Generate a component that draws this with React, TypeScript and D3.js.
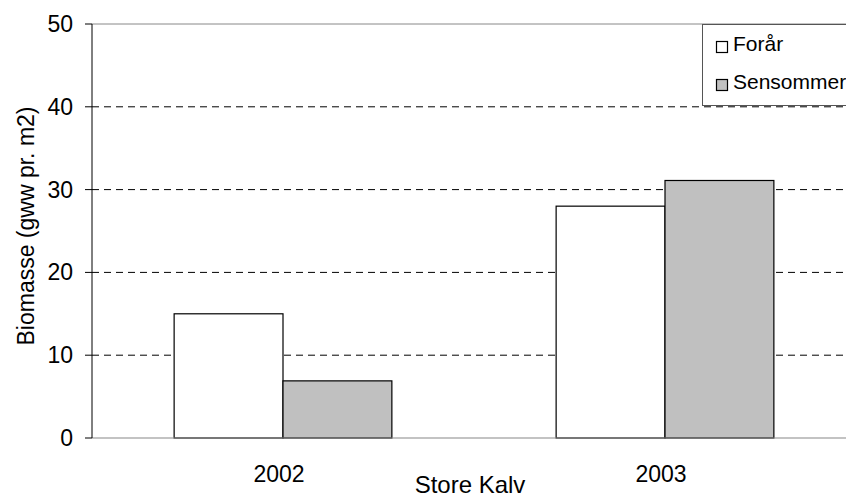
import React from "react"
import * as d3 from "d3"

const years = ["2002", "2003"]
const seriesNames = ["Forår", "Sensommer"]
const forar = [15, 28]
const sensommer = [6.9, 31.1]
const yTicks = [0, 10, 20, 30, 40, 50]
const seriesColors = ["#ffffff", "#c0c0c0"]

const width = 846
const height = 497
const margin = { left: 92, top: 24, right: -10, bottom: 59 }

function App() {
    const x = d3.scaleBand<string>()
        .domain(years)
        .range([margin.left, width - margin.right])
        .paddingInner(0.43)
        .paddingOuter(0.215)
    const inner = d3.scaleBand<string>()
        .domain(seriesNames)
        .range([0, x.bandwidth()])
    const y = d3.scaleLinear().domain([0, 50]).range([height - margin.bottom, margin.top])

    const values = [forar, sensommer]
    const font = "'Liberation Sans', Arial, sans-serif"
    const plotRight = width - margin.right

    return (
        <svg width={width} height={height} style={{ position: "absolute", left: 0, top: 0 }} fontFamily={font}>
            <rect x={0} y={0} width={width} height={height} fill="#fff" />
            {/* gridlines */}
            {yTicks.filter(t => t > 0 && t < 50).map(t => (
                <line key={t} x1={margin.left} x2={plotRight} y1={y(t)} y2={y(t)}
                    stroke="#000" strokeDasharray="7,5" />
            ))}
            <line x1={margin.left} x2={plotRight} y1={y(50)} y2={y(50)} stroke="#888" />
            {/* bars */}
            {values.map((vals, si) => years.map((yr, i) => (
                <rect key={si + yr}
                    x={(x(yr) as number) + (inner(seriesNames[si]) as number)}
                    y={y(vals[i])}
                    width={inner.bandwidth()}
                    height={y(0) - y(vals[i])}
                    fill={seriesColors[si]} stroke="#000" strokeWidth={1.2} />
            )))}
            <line x1={margin.left} x2={plotRight} y1={y(0)} y2={y(0)} stroke="#888" strokeWidth={1.2} />
            {/* y axis */}
            <line x1={margin.left} x2={margin.left} y1={y(50)} y2={y(0)} stroke="#000" />
            {yTicks.map(t => (
                <g key={t}>
                    <line x1={margin.left - 7} x2={margin.left} y1={y(t)} y2={y(t)} stroke="#000" />
                    <text x={73} y={y(t)} dy="0.35em" textAnchor="end" fontSize={23}>{t}</text>
                </g>
            ))}
            {years.map(yr => (
                <text key={yr} x={(x(yr) as number) + x.bandwidth() / 2 - 4} y={482}
                    textAnchor="middle" fontSize={23}>{yr}</text>
            ))}
            <text x={470} y={493} textAnchor="middle" fontSize={24}>Store Kalv</text>
            <text transform={`translate(34,226) rotate(-90)`} textAnchor="middle" fontSize={23}>
                Biomasse (gww pr. m2)
            </text>
            {/* legend */}
            <rect x={702.5} y={24.5} width={160} height={81} fill="#fff" stroke="#555" />
            {seriesNames.map((s, i) => (
                <g key={s}>
                    <rect x={716.5} y={41.5 + i * 38} width={11} height={11}
                        fill={seriesColors[i]} stroke="#000" strokeWidth={1.2} />
                    <text x={733} y={51 + i * 38} fontSize={21}>{s}</text>
                </g>
            ))}
        </svg>
    )
}

export default App
